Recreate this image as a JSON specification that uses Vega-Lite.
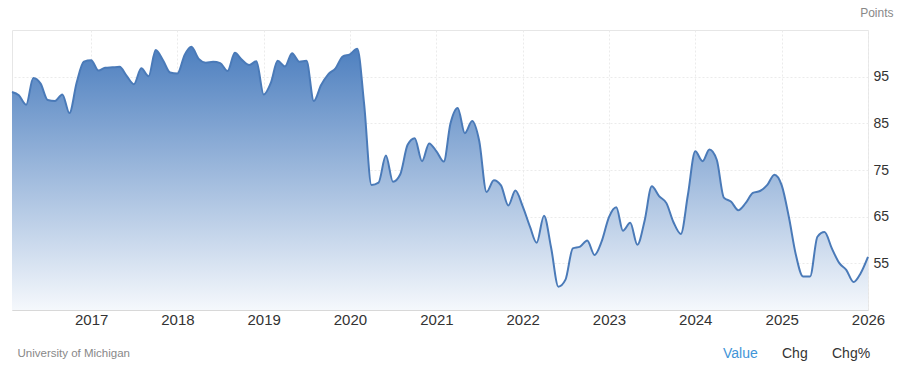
{
  "$schema": "https://vega.github.io/schema/vega-lite/v6.json",
  "width": 856,
  "height": 280,
  "autosize": {"type": "none"},
  "padding": {"left": 12, "top": 30, "right": 32, "bottom": 55},
  "background": "white",
  "config": {"font": "Liberation Sans", "view": {"stroke": "#e6e6e6"}},
  "data": {
    "format": {"parse": {"date": "date:'%Y-%m'"}},
    "values": [
      {"date": "2016-02", "value": 91.7}, {"date": "2016-03", "value": 91.0}, {"date": "2016-04", "value": 89.0}, {"date": "2016-05", "value": 94.7}, {"date": "2016-06", "value": 93.5}, {"date": "2016-07", "value": 90.0}, {"date": "2016-08", "value": 89.8}, {"date": "2016-09", "value": 91.2}, {"date": "2016-10", "value": 87.2}, {"date": "2016-11", "value": 93.8}, {"date": "2016-12", "value": 98.2},
      {"date": "2017-01", "value": 98.5}, {"date": "2017-02", "value": 96.3}, {"date": "2017-03", "value": 96.9}, {"date": "2017-04", "value": 97.0}, {"date": "2017-05", "value": 97.1}, {"date": "2017-06", "value": 95.1}, {"date": "2017-07", "value": 93.4}, {"date": "2017-08", "value": 96.8}, {"date": "2017-09", "value": 95.1}, {"date": "2017-10", "value": 100.7}, {"date": "2017-11", "value": 98.5}, {"date": "2017-12", "value": 95.9},
      {"date": "2018-01", "value": 95.7}, {"date": "2018-02", "value": 99.7}, {"date": "2018-03", "value": 101.4}, {"date": "2018-04", "value": 98.8}, {"date": "2018-05", "value": 98.0}, {"date": "2018-06", "value": 98.2}, {"date": "2018-07", "value": 97.9}, {"date": "2018-08", "value": 96.2}, {"date": "2018-09", "value": 100.1}, {"date": "2018-10", "value": 98.6}, {"date": "2018-11", "value": 97.5}, {"date": "2018-12", "value": 98.3},
      {"date": "2019-01", "value": 91.2}, {"date": "2019-02", "value": 93.8}, {"date": "2019-03", "value": 98.4}, {"date": "2019-04", "value": 97.2}, {"date": "2019-05", "value": 100.0}, {"date": "2019-06", "value": 98.2}, {"date": "2019-07", "value": 98.4}, {"date": "2019-08", "value": 89.8}, {"date": "2019-09", "value": 93.2}, {"date": "2019-10", "value": 95.5}, {"date": "2019-11", "value": 96.8}, {"date": "2019-12", "value": 99.3},
      {"date": "2020-01", "value": 99.8}, {"date": "2020-02", "value": 101.0}, {"date": "2020-03", "value": 89.1}, {"date": "2020-04", "value": 71.8}, {"date": "2020-05", "value": 72.3}, {"date": "2020-06", "value": 78.1}, {"date": "2020-07", "value": 72.5}, {"date": "2020-08", "value": 74.1}, {"date": "2020-09", "value": 80.4}, {"date": "2020-10", "value": 81.8}, {"date": "2020-11", "value": 76.9}, {"date": "2020-12", "value": 80.7},
      {"date": "2021-01", "value": 79.0}, {"date": "2021-02", "value": 76.8}, {"date": "2021-03", "value": 84.9}, {"date": "2021-04", "value": 88.3}, {"date": "2021-05", "value": 82.9}, {"date": "2021-06", "value": 85.5}, {"date": "2021-07", "value": 81.2}, {"date": "2021-08", "value": 70.3}, {"date": "2021-09", "value": 72.8}, {"date": "2021-10", "value": 71.7}, {"date": "2021-11", "value": 67.4}, {"date": "2021-12", "value": 70.6},
      {"date": "2022-01", "value": 67.2}, {"date": "2022-02", "value": 62.8}, {"date": "2022-03", "value": 59.4}, {"date": "2022-04", "value": 65.2}, {"date": "2022-05", "value": 58.4}, {"date": "2022-06", "value": 50.0}, {"date": "2022-07", "value": 51.5}, {"date": "2022-08", "value": 58.2}, {"date": "2022-09", "value": 58.6}, {"date": "2022-10", "value": 59.9}, {"date": "2022-11", "value": 56.8}, {"date": "2022-12", "value": 59.7},
      {"date": "2023-01", "value": 64.9}, {"date": "2023-02", "value": 67.0}, {"date": "2023-03", "value": 62.0}, {"date": "2023-04", "value": 63.7}, {"date": "2023-05", "value": 59.0}, {"date": "2023-06", "value": 64.2}, {"date": "2023-07", "value": 71.5}, {"date": "2023-08", "value": 69.4}, {"date": "2023-09", "value": 67.9}, {"date": "2023-10", "value": 63.8}, {"date": "2023-11", "value": 61.3}, {"date": "2023-12", "value": 69.7},
      {"date": "2024-01", "value": 79.0}, {"date": "2024-02", "value": 76.9}, {"date": "2024-03", "value": 79.4}, {"date": "2024-04", "value": 77.2}, {"date": "2024-05", "value": 69.1}, {"date": "2024-06", "value": 68.2}, {"date": "2024-07", "value": 66.4}, {"date": "2024-08", "value": 67.9}, {"date": "2024-09", "value": 70.1}, {"date": "2024-10", "value": 70.5}, {"date": "2024-11", "value": 71.8}, {"date": "2024-12", "value": 74.0},
      {"date": "2025-01", "value": 71.7}, {"date": "2025-02", "value": 64.7}, {"date": "2025-03", "value": 57.0}, {"date": "2025-04", "value": 52.2}, {"date": "2025-05", "value": 52.2}, {"date": "2025-06", "value": 60.7}, {"date": "2025-07", "value": 61.7}, {"date": "2025-08", "value": 58.2}, {"date": "2025-09", "value": 55.1}, {"date": "2025-10", "value": 53.6}, {"date": "2025-11", "value": 51.0}, {"date": "2025-12", "value": 52.9},
      {"date": "2026-01", "value": 56.4}
    ]
  },
  "encoding": {
    "x": {
      "field": "date",
      "type": "temporal",
      "scale": {"domain": [{"year": 2016, "month": 2, "date": 1}, {"year": 2026, "month": 1, "date": 1}]},
      "axis": {
        "tickCount": {"interval": "year", "step": 1},
        "format": "%Y",
        "labelFontSize": 15,
        "labelColor": "#333333",
        "labelFlush": false,
        "labelOverlap": false,
        "labelPadding": 2,
        "ticks": false,
        "domainColor": "#d8d8d8",
        "gridColor": "#ebebeb",
        "gridDash": [2, 2],
        "title": "University of Michigan",
        "titleX": 5,
        "titleY": 46,
        "titleAlign": "left",
        "titleBaseline": "alphabetic",
        "titleFontSize": 11.5,
        "titleFontWeight": "normal",
        "titleColor": "#888888"
      }
    },
    "y": {
      "field": "value",
      "type": "quantitative",
      "scale": {"domain": [45, 105], "zero": false, "nice": false},
      "axis": {
        "orient": "right",
        "values": [55, 65, 75, 85, 95],
        "labelFontSize": 14,
        "labelColor": "#333333",
        "labelPadding": 5,
        "ticks": false,
        "domain": false,
        "gridColor": "#ebebeb",
        "gridDash": [2, 2],
        "title": "Points",
        "titleAngle": 0,
        "titleX": 25,
        "titleY": -14,
        "titleAlign": "right",
        "titleBaseline": "alphabetic",
        "titleFontSize": 12,
        "titleFontWeight": "normal",
        "titleColor": "#888888"
      }
    }
  },
  "layer": [
    {
      "mark": {
        "type": "area",
        "interpolate": "monotone",
        "color": {
          "gradient": "linear",
          "x1": 0, "y1": 0, "x2": 0, "y2": 1,
          "stops": [
            {"offset": 0, "color": "#4d7fbf"},
            {"offset": 1, "color": "#f5f8fc"}
          ]
        }
      },
      "encoding": {"y2": {"datum": 45}}
    },
    {
      "mark": {"type": "line", "interpolate": "monotone", "strokeWidth": 2},
      "encoding": {
        "color": {
          "datum": "Value",
          "scale": {"domain": ["Value", "Chg", "Chg%"], "range": ["#4a7ab8", "#4a7ab8", "#4a7ab8"]},
          "legend": {
            "orient": "none",
            "legendX": 697,
            "legendY": 317,
            "direction": "horizontal",
            "title": null,
            "padding": 0,
            "symbolSize": 0,
            "symbolOpacity": 0,
            "symbolStrokeWidth": 0,
            "labelOffset": 0,
            "columnPadding": 10,
            "labelFontSize": 14,
            "labelColor": "#333333",
            "labelBaseline": "middle",
            "encode": {
              "labels": {
                "update": {
                  "fill": [
                    {"test": "datum.label === 'Value'", "value": "#3f95d8"},
                    {"value": "#333333"}
                  ]
                }
              }
            }
          }
        }
      }
    }
  ]
}
